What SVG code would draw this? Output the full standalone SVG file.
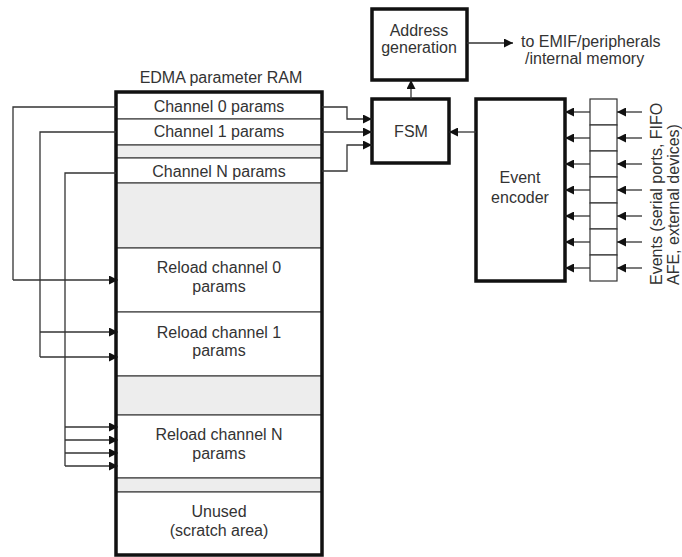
<svg xmlns="http://www.w3.org/2000/svg" width="682" height="557" viewBox="0 0 682 557">
  <defs>
    <marker id="arrow" viewBox="0 0 10 10" refX="10" refY="5" markerWidth="9" markerHeight="9" markerUnits="userSpaceOnUse" orient="auto">
      <path d="M0,0 L10,5 L0,10 Z" fill="#111"/>
    </marker>
    <style>
      text { font-family: "Liberation Sans", Arial, sans-serif; font-size: 16px; fill: #333; }
      .c { text-anchor: middle; }
      .thick { fill: #fff; stroke: #111; stroke-width: 3.5; }
      .row { fill: #fff; stroke: #444; stroke-width: 1.2; }
      .gap { fill: #ededed; stroke: #444; stroke-width: 1.2; }
      .wire { fill: none; stroke: #333; stroke-width: 1.3; }
      .arr { fill: none; stroke: #333; stroke-width: 1.3; marker-end: url(#arrow); }
      .fifo { fill: #fff; stroke: #333; stroke-width: 1.2; }
    </style>
  </defs>

  <rect width="682" height="557" fill="#fff"/>

  <!-- Parameter RAM -->
  <g id="param-ram">
    <text class="c" x="221" y="83">EDMA parameter RAM</text>
    <rect class="row" x="116" y="92" width="206" height="27"/>
    <rect class="row" x="116" y="119" width="206" height="26"/>
    <rect class="gap" x="116" y="145" width="206" height="13"/>
    <rect class="row" x="116" y="158" width="206" height="25"/>
    <rect class="gap" x="116" y="183" width="206" height="65"/>
    <rect class="row" x="116" y="248" width="206" height="64"/>
    <rect class="row" x="116" y="312" width="206" height="64"/>
    <rect class="gap" x="116" y="376" width="206" height="39"/>
    <rect class="row" x="116" y="415" width="206" height="63"/>
    <rect class="gap" x="116" y="478" width="206" height="14"/>
    <rect class="row" x="116" y="492" width="206" height="63"/>
    <rect x="116" y="92" width="206" height="463" fill="none" stroke="#111" stroke-width="3.5"/>
    <text class="c" x="219" y="112">Channel 0 params</text>
    <text class="c" x="219" y="137">Channel 1 params</text>
    <text class="c" x="219" y="177">Channel N params</text>
    <text class="c" x="219" y="273">Reload channel 0</text>
    <text class="c" x="219" y="292">params</text>
    <text class="c" x="219" y="338">Reload channel 1</text>
    <text class="c" x="219" y="356">params</text>
    <text class="c" x="219" y="440">Reload channel N</text>
    <text class="c" x="219" y="459">params</text>
    <text class="c" x="219" y="517">Unused</text>
    <text class="c" x="219" y="536">(scratch area)</text>
  </g>

  <!-- FSM -->
  <g id="fsm">
    <rect class="thick" x="372" y="99" width="77" height="64"/>
    <text class="c" x="411" y="137">FSM</text>
  </g>

  <!-- Address generation -->
  <g id="address-generation">
    <rect class="thick" x="372" y="9" width="95" height="71"/>
    <text class="c" x="419" y="36">Address</text>
    <text class="c" x="419" y="53">generation</text>
  </g>

  <!-- Destination label -->
  <g id="destination">
    <text x="521" y="47">to EMIF/peripherals</text>
    <text x="525" y="64">/internal memory</text>
  </g>

  <!-- Event encoder -->
  <g id="event-encoder">
    <rect class="thick" x="476" y="99" width="89" height="182"/>
    <text class="c" x="520" y="183">Event</text>
    <text class="c" x="520" y="203">encoder</text>
  </g>

  <!-- Event latch column -->
  <g id="event-latches">
    <rect class="fifo" x="590" y="99" width="27" height="26"/>
    <rect class="fifo" x="590" y="125" width="27" height="26"/>
    <rect class="fifo" x="590" y="151" width="27" height="26"/>
    <rect class="fifo" x="590" y="177" width="27" height="26"/>
    <rect class="fifo" x="590" y="203" width="27" height="26"/>
    <rect class="fifo" x="590" y="229" width="27" height="26"/>
    <rect class="fifo" x="590" y="255" width="27" height="26"/>
  </g>

  <!-- Event sources label -->
  <g id="event-sources">
    <text transform="translate(662,285) rotate(-90)">Events (serial ports, FIFO</text>
    <text transform="translate(679,285) rotate(-90)">AFE, external devices)</text>
  </g>

  <!-- Connectors -->
  <g id="connectors">
    <!-- reload links -->
    <path class="wire" d="M116,107 H13 V280"/>
    <path class="arr" d="M13,280 H118"/>
    <path class="wire" d="M116,132 H40 V357"/>
    <path class="arr" d="M40,332 H118"/>
    <path class="arr" d="M40,357 H118"/>
    <path class="wire" d="M116,173 H65 V466"/>
    <path class="arr" d="M65,427 H118"/>
    <path class="arr" d="M65,440 H118"/>
    <path class="arr" d="M65,453 H118"/>
    <path class="arr" d="M65,466 H118"/>

    <!-- params to FSM -->
    <path class="arr" d="M322,107 H347 V119 H372"/>
    <path class="arr" d="M322,132 H372"/>
    <path class="arr" d="M322,171 H347 V145 H372"/>

    <!-- FSM to address generation -->
    <path class="arr" d="M411,99 V80"/>
    <!-- address generation out -->
    <path class="arr" d="M467,43 H513"/>
    <!-- encoder to FSM -->
    <path class="arr" d="M476,132 H449"/>

    <!-- latches to encoder -->
    <path class="arr" d="M590,112 H565"/>
    <path class="arr" d="M590,138 H565"/>
    <path class="arr" d="M590,164 H565"/>
    <path class="arr" d="M590,190 H565"/>
    <path class="arr" d="M590,216 H565"/>
    <path class="arr" d="M590,242 H565"/>
    <path class="arr" d="M590,268 H565"/>

    <!-- events into latches -->
    <path class="arr" d="M642,112 H617"/>
    <path class="arr" d="M642,138 H617"/>
    <path class="arr" d="M642,164 H617"/>
    <path class="arr" d="M642,190 H617"/>
    <path class="arr" d="M642,216 H617"/>
    <path class="arr" d="M642,242 H617"/>
    <path class="arr" d="M642,268 H617"/>
  </g>
</svg>
